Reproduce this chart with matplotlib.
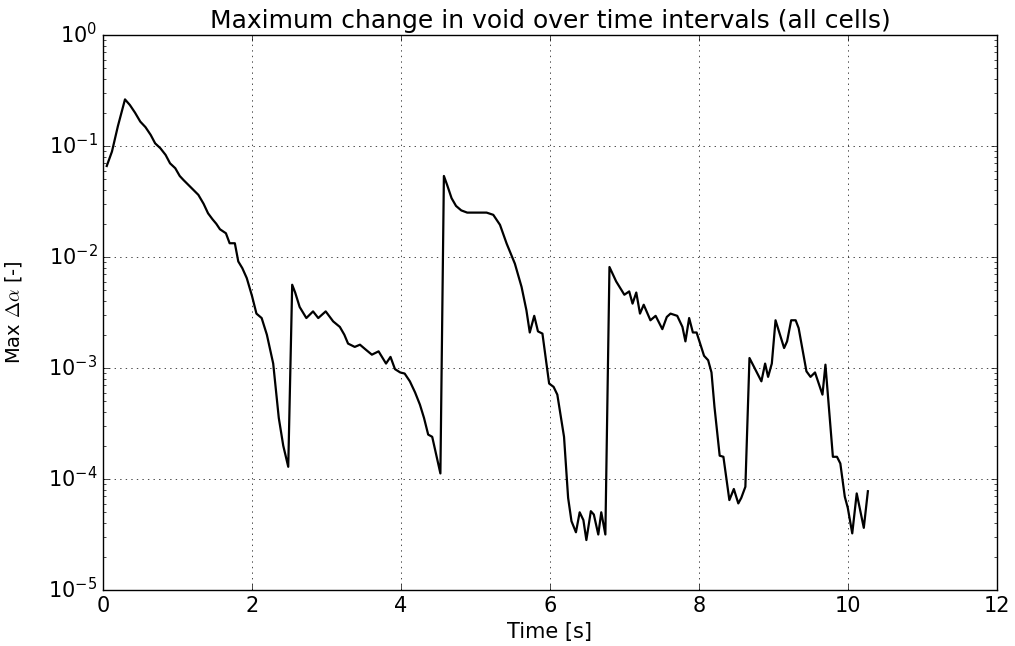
""" Max change in void fraction over time intervals. """

import numpy as np
from matplotlib import pyplot as plt

# Data, time [s] and log10 of max change
time = [0.05, 0.12, 0.20, 0.295, 0.36, 0.43, 0.50, 0.57, 0.64, 0.70,
        0.77, 0.84, 0.90, 0.97, 1.03, 1.08, 1.16, 1.22, 1.28, 1.35,
        1.41, 1.47, 1.52, 1.57, 1.65, 1.70, 1.77, 1.816, 1.87, 1.93,
        2.00, 2.06, 2.13, 2.20, 2.285, 2.36, 2.42, 2.487,
        2.54, 2.58, 2.64, 2.73, 2.82, 2.89, 2.99, 3.09, 3.18, 3.24,
        3.29, 3.38, 3.45, 3.52, 3.61, 3.70, 3.80, 3.86, 3.92, 3.99,
        4.05, 4.12, 4.19, 4.255, 4.31, 4.366, 4.42, 4.53,
        4.577, 4.62, 4.68, 4.74, 4.81, 4.89, 4.99, 5.07, 5.15, 5.24,
        5.33, 5.42, 5.53, 5.62, 5.685, 5.73, 5.79, 5.84, 5.90, 5.99,
        6.05, 6.10, 6.19, 6.245, 6.29, 6.35, 6.40, 6.45, 6.49, 6.55,
        6.59, 6.65, 6.69, 6.745,
        6.80, 6.89, 7.00, 7.065, 7.11, 7.16, 7.21, 7.26, 7.35, 7.42,
        7.51, 7.57, 7.62, 7.71, 7.78, 7.82, 7.87, 7.92, 7.97, 8.07,
        8.125, 8.17, 8.21, 8.28, 8.33, 8.41, 8.47, 8.53, 8.57, 8.625,
        8.68, 8.84, 8.89, 8.93, 8.98, 9.03, 9.145, 9.185, 9.24, 9.30,
        9.34, 9.445, 9.50, 9.56, 9.66, 9.70, 9.80, 9.855, 9.90, 9.96,
        10.00, 10.06, 10.12, 10.215, 10.27]
log_dalpha = [-1.18, -1.05, -0.82, -0.58, -0.63, -0.70, -0.78, -0.83, -0.90, -0.976,
              -1.02, -1.08, -1.156, -1.20, -1.27, -1.306, -1.36, -1.40, -1.44, -1.52,
              -1.606, -1.66, -1.70, -1.75, -1.786, -1.876, -1.876, -2.04, -2.10, -2.19,
              -2.35, -2.51, -2.55, -2.70, -2.96, -3.45, -3.70, -3.89,
              -2.25, -2.32, -2.45, -2.55, -2.49, -2.55, -2.49, -2.58, -2.63, -2.70,
              -2.78, -2.81, -2.79, -2.83, -2.88, -2.85, -2.96, -2.90, -3.01, -3.04,
              -3.05, -3.12, -3.22, -3.33, -3.45, -3.60, -3.62, -3.95,
              -1.27, -1.35, -1.47, -1.54, -1.58, -1.60, -1.60, -1.60, -1.60, -1.62,
              -1.71, -1.88, -2.06, -2.27, -2.48, -2.68, -2.53, -2.67, -2.69, -3.14,
              -3.17, -3.24, -3.62, -4.17, -4.38, -4.48, -4.30, -4.37, -4.55, -4.29,
              -4.32, -4.50, -4.30, -4.50,
              -2.09, -2.22, -2.34, -2.31, -2.42, -2.32, -2.51, -2.43, -2.57, -2.53,
              -2.65, -2.54, -2.51, -2.53, -2.63, -2.76, -2.55, -2.68, -2.68, -2.89,
              -2.93, -3.04, -3.35, -3.79, -3.80, -4.19, -4.09, -4.22, -4.17, -4.07,
              -2.91, -3.12, -2.96, -3.08, -2.96, -2.57, -2.82, -2.76, -2.57, -2.57,
              -2.64, -3.03, -3.08, -3.04, -3.24, -2.97, -3.80, -3.80, -3.86, -4.16,
              -4.26, -4.49, -4.13, -4.44, -4.11]

max_dalpha = 10.0 ** np.array(log_dalpha)

plt.style.use('classic')
plt.rcParams['figure.facecolor'] = 'white'
plt.rcParams['savefig.facecolor'] = 'white'

fig = plt.figure(figsize=(10.15, 6.46), dpi=100)
ax = fig.add_axes([0.1015, 0.0867, 0.8805, 0.8591])

ax.semilogy(time, max_dalpha, color='k', lw=1.6)

ax.set_xlim(0, 12)
ax.set_ylim(1e-5, 1e0)
ax.grid(True)
ax.tick_params(labelsize=15)

ax.set_xlabel('Time [s]', fontsize=15)
ax.set_ylabel(r'Max $\mathit{\Delta}\alpha$ [-]', fontsize=14)
ax.yaxis.set_label_coords(-0.088, 0.5)
ax.set_title('Maximum change in void over time intervals (all cells)', fontsize=18)

plt.savefig('out.png', dpi=100, facecolor='white')
